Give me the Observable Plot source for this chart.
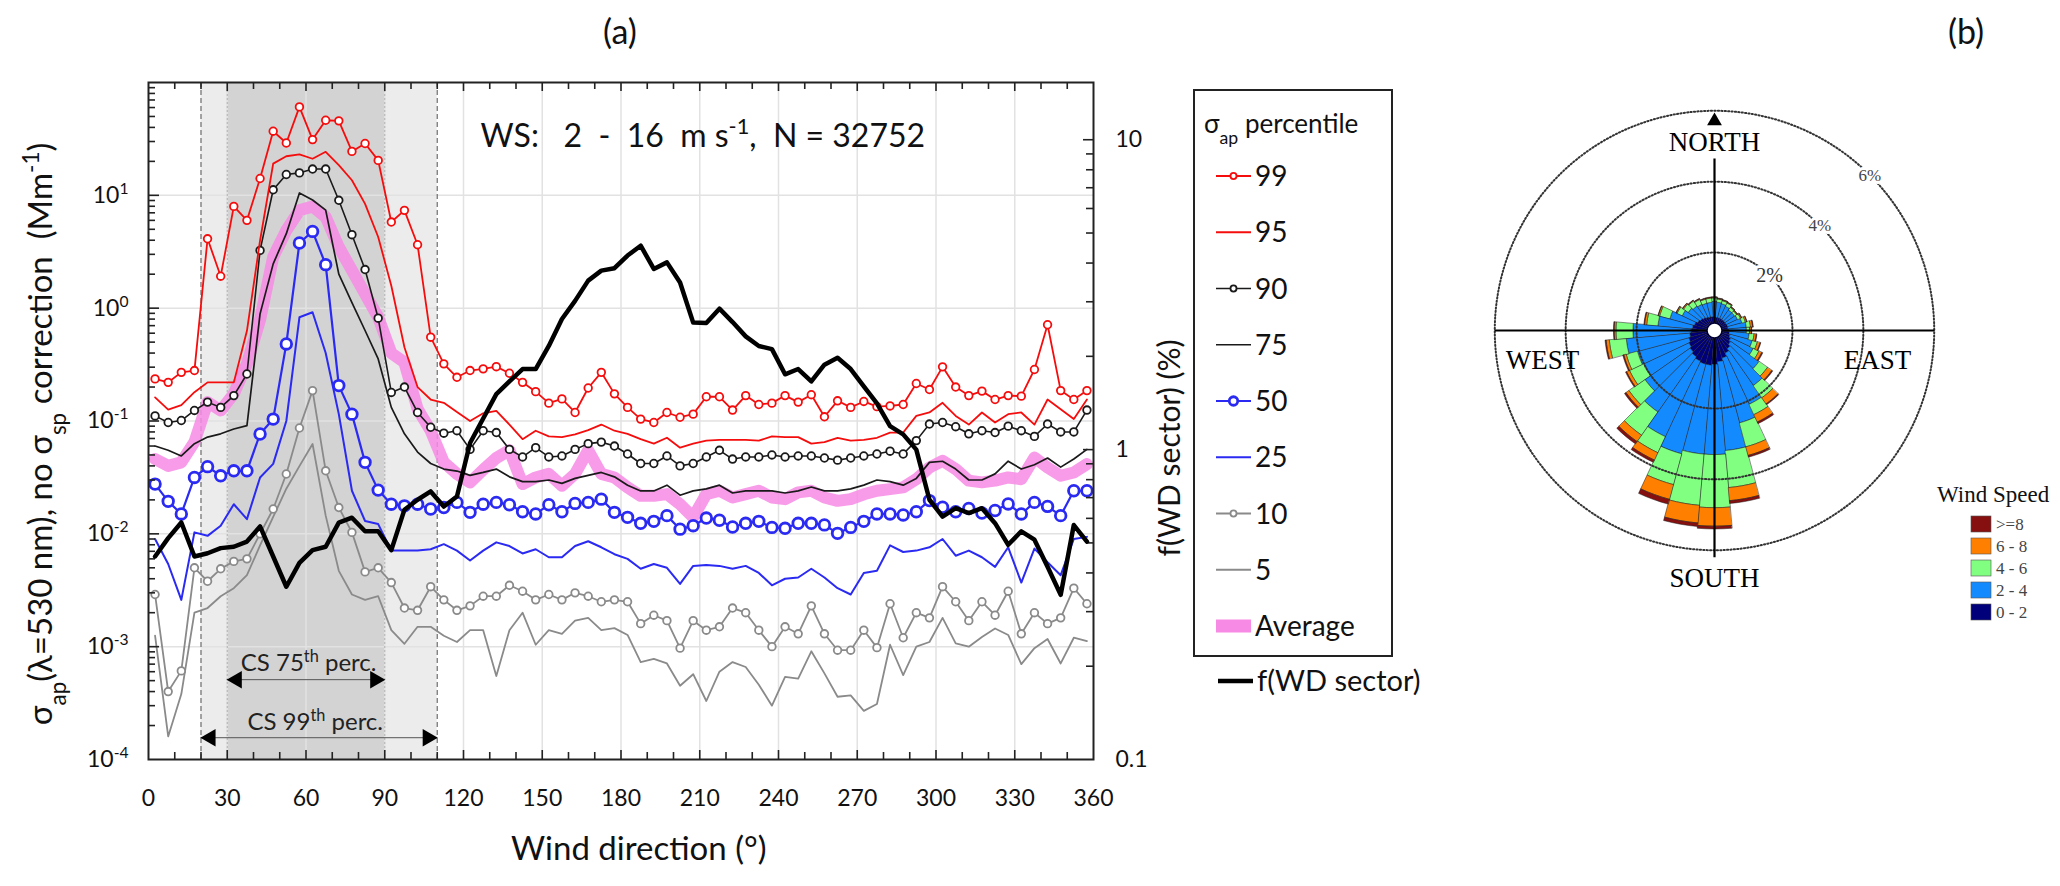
<!DOCTYPE html>
<html>
<head>
<meta charset="utf-8">
<script src="https://cdn.jsdelivr.net/npm/d3@7"></script>
<script src="https://cdn.jsdelivr.net/npm/@observablehq/plot@0.6"></script>
<style>
  body { margin: 0; background: #fff; }
  #wrap { position: relative; width: 2060px; height: 886px; overflow: hidden; background: #fff; }
  #wrap > svg { position: absolute; }
</style>
</head>
<body>
<div id="wrap"></div>
<script>
// ---- panel (a): wind direction sectors (bin centres, degrees)
const wd = [2.5,7.5,12.5,17.5,22.5,27.5,32.5,37.5,42.5,47.5,52.5,57.5,62.5,67.5,72.5,77.5,82.5,87.5,92.5,97.5,102.5,107.5,
  112.5,117.5,122.5,127.5,132.5,137.5,142.5,147.5,152.5,157.5,162.5,167.5,172.5,177.5,182.5,187.5,192.5,197.5,202.5,207.5,
  212.5,217.5,222.5,227.5,232.5,237.5,242.5,247.5,252.5,257.5,262.5,267.5,272.5,277.5,282.5,287.5,292.5,297.5,302.5,307.5,
  312.5,317.5,322.5,327.5,332.5,337.5,342.5,347.5,352.5,357.5];

// sigma_ap percentiles (Mm-1)
const p99 = [0.236,0.22,0.27,0.28,4.12,1.92,7.98,6.0,14.1,37,29.1,60.8,31.2,46.3,45.7,24.5,28.8,20.4,5.8,7.36,3.65,0.553,
  0.321,0.244,0.28,0.29,0.303,0.265,0.22,0.182,0.144,0.157,0.119,0.196,0.27,0.174,0.132,0.104,0.097,0.119,0.108,0.115,
  0.164,0.164,0.125,0.168,0.14,0.144,0.168,0.147,0.171,0.109,0.151,0.132,0.149,0.134,0.136,0.14,0.215,0.19,0.302,0.2,
  0.168,0.184,0.155,0.168,0.166,0.286,0.713,0.186,0.155,0.186];
const p95 = [0.162,0.126,0.138,0.18,0.22,0.22,0.22,0.63,3.98,19.1,22.2,23.1,21.1,24.3,18.5,13.6,8.4,4.27,1.58,0.45,0.2,0.155,
  0.145,0.12,0.1,0.117,0.123,0.093,0.069,0.082,0.073,0.072,0.076,0.083,0.093,0.082,0.077,0.069,0.063,0.071,0.058,0.063,
  0.067,0.068,0.068,0.068,0.067,0.073,0.072,0.072,0.063,0.065,0.071,0.067,0.068,0.071,0.079,0.079,0.111,0.119,0.145,0.111,
  0.093,0.119,0.097,0.115,0.119,0.093,0.155,0.127,0.104,0.155];
const p90 = [0.111,0.097,0.101,0.124,0.147,0.132,0.168,0.261,3.25,11.2,15.3,15.8,17.1,17.1,9.04,4.48,2.2,0.815,0.179,0.2,0.119,0.088,
  0.078,0.082,0.056,0.082,0.079,0.056,0.048,0.058,0.048,0.049,0.056,0.063,0.065,0.06,0.051,0.042,0.042,0.049,0.04,0.042,
  0.048,0.055,0.046,0.048,0.048,0.05,0.048,0.049,0.049,0.047,0.045,0.047,0.049,0.051,0.054,0.051,0.067,0.094,0.097,0.089,
  0.077,0.082,0.079,0.09,0.082,0.073,0.094,0.08,0.08,0.125];
const p75 = [0.06,0.055,0.049,0.063,0.072,0.077,0.085,0.091,0.89,2.47,4.57,10.5,9.1,7.4,2.0,1.12,0.634,0.355,0.132,0.077,0.053,0.042,
  0.0375,0.036,0.033,0.035,0.0375,0.032,0.029,0.029,0.03,0.028,0.031,0.033,0.035,0.032,0.027,0.024,0.024,0.027,0.022,0.024,
  0.025,0.027,0.023,0.024,0.024,0.024,0.023,0.024,0.026,0.024,0.024,0.025,0.027,0.03,0.029,0.027,0.031,0.043,0.044,0.0375,
  0.03,0.03,0.034,0.044,0.0375,0.041,0.047,0.039,0.046,0.056];
const p50 = [0.0276,0.0194,0.015,0.0316,0.0394,0.0327,0.0362,0.0362,0.0767,0.104,0.482,3.78,4.79,2.43,0.206,0.115,0.043,0.0244,0.0183,0.0177,
  0.0183,0.0166,0.0171,0.019,0.0155,0.0183,0.019,0.0181,0.0157,0.015,0.0181,0.0157,0.0186,0.019,0.0203,0.0155,0.014,0.0124,0.0129,0.0145,
  0.011,0.0118,0.0138,0.0132,0.0115,0.0124,0.0129,0.0114,0.0112,0.0124,0.0124,0.012,0.0101,0.0114,0.0129,0.015,0.015,0.0147,0.0157,0.0197,
  0.0172,0.0157,0.0168,0.0153,0.0161,0.0184,0.015,0.019,0.0175,0.0145,0.0241,0.0241];
const p25 = [0.009,0.0054,0.0026,0.0103,0.0096,0.0118,0.0183,0.0135,0.0316,0.0417,0.1,0.83,0.92,0.4,0.115,0.0241,0.013,0.0122,0.0071,0.0071,
  0.0071,0.0073,0.0081,0.0071,0.0058,0.0071,0.0084,0.0078,0.0067,0.0073,0.0062,0.0062,0.0078,0.0086,0.0076,0.0066,0.006,0.0049,0.0054,0.005,
  0.0036,0.0052,0.0053,0.0052,0.0049,0.0052,0.0045,0.0035,0.004,0.0041,0.0049,0.0041,0.0033,0.0029,0.0045,0.0047,0.0079,0.0069,0.0071,0.0076,
  0.009,0.0064,0.0071,0.0062,0.0051,0.0076,0.0037,0.0074,0.0056,0.0043,0.009,0.0094];
const p10 = [0.0029,0.0004,0.00061,0.005,0.0038,0.0049,0.0057,0.006,0.01,0.0166,0.0339,0.0867,0.186,0.0362,0.0171,0.0103,0.0046,0.005,0.0037,0.0022,
  0.0021,0.0034,0.0026,0.0021,0.0023,0.0028,0.0028,0.0035,0.0031,0.0026,0.0029,0.0026,0.003,0.0028,0.0025,0.0026,0.0025,0.0016,0.0019,0.0017,
  0.00097,0.0017,0.0014,0.0015,0.0022,0.002,0.0014,0.001,0.0015,0.0013,0.0023,0.0013,0.00093,0.00093,0.0014,0.00098,0.0024,0.0012,0.002,0.0018,
  0.0034,0.0025,0.0017,0.0025,0.0019,0.0031,0.0013,0.002,0.0016,0.0018,0.0033,0.0024];
const p5 = [0.00125,0.00016,0.00038,0.002,0.0022,0.0028,0.0033,0.0043,0.0079,0.0141,0.0251,0.0398,0.0625,0.0145,0.0047,0.0029,0.0026,0.0028,0.0014,0.00106,
  0.0015,0.0015,0.00125,0.0011,0.0014,0.0014,0.00055,0.0014,0.002,0.00104,0.0014,0.0013,0.0017,0.0018,0.0014,0.00146,0.00127,0.00073,0.00078,0.00071,
  0.00045,0.00057,0.00033,0.0006,0.00073,0.00066,0.00046,0.0003,0.00054,0.00052,0.00091,0.00058,0.00036,0.00037,0.00027,0.00031,0.00104,0.00056,0.001,0.0011,
  0.0018,0.00107,0.001,0.00122,0.00145,0.00127,0.0007,0.00097,0.00117,0.00071,0.0012,0.00112];
const avg = [0.046,0.04,0.043,0.065,0.147,0.124,0.174,0.321,0.79,2.84,4.89,7.36,7.98,6.43,3.48,2.16,1.34,0.83,0.4,0.33,
  0.128,0.082,0.043,0.034,0.0286,0.037,0.047,0.055,0.0276,0.0316,0.034,0.0267,0.034,0.055,0.034,0.0316,0.0258,0.0217,0.0217,0.0225,
  0.0183,0.014,0.0225,0.0241,0.021,0.0225,0.0241,0.021,0.0203,0.0233,0.0241,0.021,0.0196,0.0203,0.0224,0.0241,0.0249,0.0258,0.0305,0.0387,
  0.0444,0.0375,0.0296,0.0286,0.0296,0.0316,0.0305,0.0474,0.0387,0.0327,0.035,0.0415];
// frequency of each WD sector (%), right axis
const fwd = [0.452,0.518,0.582,0.452,0.463,0.481,0.486,0.505,0.565,0.452,0.361,0.431,0.474,0.486,0.581,0.603,0.545,0.545,0.474,0.64,
  0.689,0.733,0.655,0.706,1.05,1.26,1.51,1.66,1.82,1.82,2.16,2.64,3.02,3.51,3.78,3.85,4.23,4.55,3.83,4.02,
  3.46,2.57,2.56,2.85,2.58,2.32,2.16,2.11,1.75,1.82,1.66,1.88,1.98,1.82,1.6,1.41,1.19,1.12,1.0,0.689,
  0.608,0.647,0.624,0.647,0.579,0.493,0.545,0.512,0.419,0.34,0.571,0.505];

const xLabels = [0,30,60,90,120,150,180,210,240,270,300,330,360];
const yLabels = [1e-4,1e-3,1e-2,1e-1,1,10];
const rLabels = [0.1,1,10];

// ---- panel (b): wind rose, % of time per 10 degree sector and speed class
const bearing = [0,10,20,30,40,50,60,70,80,90,100,110,120,130,140,150,160,170,180,190,200,210,220,230,240,250,260,270,280,290,300,310,320,330,340,350];
const ws02 = [0.18,0.17,0.17,0.17,0.17,0.17,0.17,0.18,0.18,0.2,0.22,0.25,0.3,0.35,0.42,0.5,0.6,0.68,0.75,0.78,0.78,0.75,0.7,0.65,0.6,0.55,0.5,0.46,0.42,0.38,0.32,0.28,0.25,0.22,0.2,0.19];
const ws24 = [0.44,0.43,0.41,0.38,0.33,0.33,0.35,0.42,0.52,0.5,0.56,0.65,0.7,0.98,1.28,1.6,1.9,2.52,2.55,2.52,2.62,2.35,1.9,1.55,1.4,1.5,1.8,1.64,0.98,0.72,0.48,0.42,0.4,0.4,0.4,0.41];
const ws46 = [0.1,0.09,0.09,0.1,0.09,0.07,0.09,0.1,0.12,0.09,0.14,0.15,0.18,0.29,0.42,0.32,0.7,1.05,1.5,1.45,0.9,0.5,0.8,0.55,0.45,0.33,0.48,0.48,0.32,0.3,0.16,0.16,0.17,0.15,0.12,0.12];
const ws68 = [0.02,0.02,0.02,0.02,0.02,0.02,0.03,0.04,0.06,0.05,0.06,0.08,0.09,0.15,0.21,0.23,0.25,0.37,0.52,0.5,0.43,0.23,0.22,0.1,0.09,0.07,0.09,0.05,0.06,0.04,0.03,0.03,0.02,0.02,0.02,0.02];
const ws8 = [0.01,0.01,0.01,0.01,0.01,0.01,0.01,0.01,0.02,0.01,0.02,0.02,0.03,0.03,0.03,0.05,0.05,0.08,0.08,0.1,0.14,0.07,0.08,0.05,0.03,0.03,0.03,0.02,0.02,0.01,0.01,0.01,0.01,0.01,0.01,0.01];
const ringPct = [2, 4, 6];

// ---------------------------------------------------------------
const RED = "#f50d0d", BLACK = "#1a1a1a", BLUE = "#2a2af2", GRAY = "#8a8a8a", PINK = "#f78ae4";

const rows = wd.map((d, i) => ({wd: d, p99: p99[i], p95: p95[i], p90: p90[i], p75: p75[i], p50: p50[i],
  p25: p25[i], p10: p10[i], p5: p5[i], avg: avg[i], fwd: fwd[i]}));

const series = [
  {key: "p99", label: "99", color: RED, width: 1.8, dot: 3.8, dotWidth: 1.8},
  {key: "p95", label: "95", color: RED, width: 1.8},
  {key: "p90", label: "90", color: BLACK, width: 1.6, dot: 3.8, dotWidth: 1.8},
  {key: "p75", label: "75", color: BLACK, width: 1.7},
  {key: "p50", label: "50", color: BLUE, width: 2.2, dot: 5.3, dotWidth: 2.8},
  {key: "p25", label: "25", color: BLUE, width: 2},
  {key: "p10", label: "10", color: GRAY, width: 1.8, dot: 3.8, dotWidth: 1.8},
  {key: "p5", label: "5", color: GRAY, width: 1.8}
];

const csNotes = [
  {label: "CS 75^{th} perc.", x1: 30, x2: 90, yArrow: 5.1e-4, tx: 61, ty: 6.1e-4},
  {label: "CS 99^{th} perc.", x1: 20, x2: 110, yArrow: 1.56e-4, tx: 63.5, ty: 1.83e-4}
];
const wsNote = [{label: "WS:\u00a0\u00a0 2\u00a0 -\u00a0 16\u00a0 m s^{-1},\u00a0 N = 32752", x: 126.5, y: 26.7}];

// layout of panel (a)
const W = 1200, H = 886, mL = 148, mR = 107, mT = 82, mB = 127;
const fw = W - mL - mR, fh = H - mT - mB;
const xMinor = d3.range(10, 360, 10).filter(d => d % 30);
const xMajor = d3.range(30, 360, 30);
const yMinor = d3.scaleLog().domain([1e-4, 100]).ticks().filter(d => Math.abs(Math.log10(d) % 1) > 1e-6);
const rMinor = d3.scaleLog().domain([0.1, 15.3]).ticks().filter(d => Math.abs(Math.log10(d) % 1) > 1e-6);

function rich(node, s) {
  const t = d3.select(node).text(null);
  const re = /([\^_])\{([^}]*)\}/g;
  let last = 0, m;
  while ((m = re.exec(s))) {
    if (m.index > last) t.append("tspan").text(s.slice(last, m.index));
    t.append("tspan").attr("baseline-shift", m[1] === "^" ? "super" : "sub").style("font-size", "0.68em").text(m[2]);
    last = re.lastIndex;
  }
  if (last < s.length) t.append("tspan").text(s.slice(last));
}
function richAll(svg) {
  d3.select(svg).selectAll("text").each(function () {
    const s = this.textContent;
    if (/[\^_]\{/.test(s) && !this.querySelector("tspan")) rich(this, s);
  });
}

const tickStyle = {stroke: "#222", strokeWidth: 1.6};

const main = Plot.plot({
  width: W, height: H, marginLeft: mL, marginRight: mR, marginTop: mT, marginBottom: mB,
  x: {domain: [0, 360]},
  y: {type: "log", domain: [1e-4, 100]},
  style: {fontFamily: "Lato, sans-serif", fontSize: "23px", color: "#111", background: "transparent"},
  marks: [
    Plot.rect([csNotes[1]], {x1: "x1", x2: "x2", y1: 1e-4, y2: 100, fill: "#ececec"}),
    Plot.rect([csNotes[0]], {x1: "x1", x2: "x2", y1: 1e-4, y2: 100, fill: "#d3d3d3"}),
    Plot.ruleX(xMajor, {stroke: "#e2e2e2", strokeWidth: 1.5}),
    Plot.ruleY([1e-3, 1e-2, 1e-1, 1, 10], {stroke: "#e2e2e2", strokeWidth: 1.5}),
    Plot.ruleX([30, 90], {stroke: "#b0b0b0", strokeDasharray: "2,2", strokeWidth: 1}),
    Plot.ruleX([20, 110], {stroke: "#777", strokeDasharray: "5,3", strokeWidth: 1.3}),
    Plot.line(rows, {x: "wd", y: "avg", stroke: PINK, strokeWidth: 12, strokeOpacity: 0.85, strokeLinejoin: "round"}),
    ...series.slice().reverse().flatMap(s => [
      Plot.line(rows, {x: "wd", y: s.key, stroke: s.color, strokeWidth: s.width}),
      ...(s.dot ? [Plot.dot(rows, {x: "wd", y: s.key, r: s.dot, stroke: s.color, strokeWidth: s.dotWidth, fill: "white"})] : [])
    ]),
    // CS arrows
    Plot.ruleY(csNotes, {y: "yArrow", x1: "x1", x2: "x2", stroke: "#555", strokeWidth: 1}),
    Plot.dot(csNotes, {x: "x1", y: "yArrow", symbol: "triangle", rotate: -90, r: 6.5, fill: "black", dx: 9.5}),
    Plot.dot(csNotes, {x: "x2", y: "yArrow", symbol: "triangle", rotate: 90, r: 6.5, fill: "black", dx: -9.5}),
    Plot.text(csNotes, {x: "tx", y: "ty", text: "label", lineAnchor: "bottom", fontSize: 24, fill: "#222"}),
    Plot.text(wsNote, {x: "x", y: "y", text: "label", textAnchor: "start", lineAnchor: "bottom", fontSize: 32, fill: "#111"}),
    // inward ticks
    Plot.tickX(xMinor, {...tickStyle, insetTop: fh - 7}),
    Plot.tickX(xMajor, {...tickStyle, insetTop: fh - 9}),
    Plot.tickX(xMinor, {...tickStyle, insetBottom: fh - 7}),
    Plot.tickX(xMajor, {...tickStyle, insetBottom: fh - 9}),
    Plot.tickY(yMinor, {...tickStyle, insetRight: fw - 7}),
    Plot.tickY([1e-3, 1e-2, 1e-1, 1, 10], {...tickStyle, insetRight: fw - 11}),
    Plot.frame({stroke: "#222", strokeWidth: 2}),
    Plot.axisX({ticks: xLabels, tickSize: 0, tickPadding: 30, label: null}),
    Plot.axisY({ticks: yLabels, tickSize: 0, tickPadding: 20, label: null,
      tickFormat: d => `10^{${Math.round(Math.log10(d))}}`})
  ]
});
richAll(main);

const right = Plot.plot({
  width: W, height: H, marginLeft: mL, marginRight: mR, marginTop: mT, marginBottom: mB,
  x: {domain: [0, 360], axis: null},
  y: {type: "log", domain: [0.1, 15.3]},
  style: {fontFamily: "Lato, sans-serif", fontSize: "23px", color: "#111", background: "transparent"},
  marks: [
    Plot.tickY(rMinor, {...tickStyle, insetLeft: fw - 7}),
    Plot.tickY([1, 10], {...tickStyle, insetLeft: fw - 10}),
    Plot.axisY({anchor: "right", ticks: rLabels, tickSize: 0, tickPadding: 22, label: null, tickFormat: d => String(d)}),
    Plot.line(rows, {x: "wd", y: "fwd", stroke: "#000", strokeWidth: 4.5, strokeLinejoin: "round"})
  ]
});

// ---- wind rose
const HOLE = 0.2;
const roseClasses = [
  {label: "0 - 2", values: ws02, color: "#00007a"},
  {label: "2 - 4", values: ws24, color: "#148aff"},
  {label: "4 - 6", values: ws46, color: "#80ff80"},
  {label: "6 - 8", values: ws68, color: "#ff8000"},
  {label: ">=8", values: ws8, color: "#861010"}
];
const rad = Math.PI / 180;
const wedges = roseClasses.map(() => []);
bearing.forEach((b, i) => {
  let r0 = HOLE;
  roseClasses.forEach((c, k) => {
    const r1 = r0 + c.values[i];
    const pts = [];
    for (let a = -5; a <= 5; a += 2.5) pts.push([r0, b + a]);
    for (let a = 5; a >= -5; a -= 2.5) pts.push([r1, b + a]);
    for (const [r, deg] of pts) wedges[k].push({id: i, x: r * Math.sin(deg * rad), y: r * Math.cos(deg * rad)});
    r0 = r1;
  });
});
const ringPts = ringPct.flatMap(p => d3.range(0, 361, 2).map(a => ({ring: p, x: (p + HOLE) * Math.sin(a * rad), y: (p + HOLE) * Math.cos(a * rad)})));
const R = ringPct[ringPct.length - 1] + HOLE;
const compass = [
  {label: "NORTH", x: 0, y: 5.3}, {label: "SOUTH", x: 0, y: -7.0},
  {label: "WEST", x: -4.85, y: -0.85}, {label: "EAST", x: 4.6, y: -0.85}
];
const ringText = ringPct.map(p => ({label: p + "%", x: (p + HOLE) * Math.SQRT1_2, y: (p + HOLE) * Math.SQRT1_2}));

const RD = 7.9;
const rose = Plot.plot({
  width: 560, height: 560, margin: 0,
  x: {domain: [-RD, RD], axis: null},
  y: {domain: [-RD, RD], axis: null},
  style: {fontFamily: "Liberation Serif, serif", background: "transparent"},
  marks: [
    ...roseClasses.map((c, k) => Plot.line(wedges[k], {x: "x", y: "y", z: "id", curve: "linear-closed",
      fill: c.color, stroke: "#1a1a1a", strokeWidth: 0.5})),
    Plot.line(ringPts, {x: "x", y: "y", z: "ring", curve: "linear-closed", stroke: "#333", strokeWidth: 2, strokeDasharray: "1.2,2.2"}),
    Plot.link([{x1: -R, y1: 0, x2: R, y2: 0}, {x1: 0, y1: 4.85, x2: 0, y2: -6.4}],
      {x1: "x1", y1: "y1", x2: "x2", y2: "y2", stroke: "#000", strokeWidth: 2.2}),
    Plot.dot([{x: 0, y: 5.91}], {x: "x", y: "y", symbol: "triangle", r: 5.5, fill: "#000"}),
    Plot.dot([{x: 0, y: 0}], {x: "x", y: "y", r: 7.5, fill: "white", stroke: "#000033", strokeWidth: 1.5}),
    Plot.text(ringText.slice(0, 1), {x: "x", y: "y", text: "label", fontSize: 20, fill: "#333", stroke: "white", strokeWidth: 6}),
    Plot.text(ringText.slice(1), {x: "x", y: "y", text: "label", fontSize: 17, fill: "#444", stroke: "white", strokeWidth: 6}),
    Plot.text(compass, {x: "x", y: "y", text: "label", fontSize: 27, fill: "#000"})
  ]
});

const wrap = d3.select("#wrap");
wrap.append(() => main).style("left", "0px").style("top", "0px");
wrap.append(() => right).style("left", "0px").style("top", "0px");
wrap.append(() => rose).style("left", "1434px").style("top", "50px");

// ---- titles, axis titles and legends
const ov = wrap.append("svg").attr("width", 2060).attr("height", 886)
  .style("left", "0px").style("top", "0px").style("pointer-events", "none");
function label(x, y, s, o = {}) {
  const t = ov.append("text").attr("x", x).attr("y", y)
    .attr("font-family", o.family || "Lato, sans-serif").attr("font-size", o.size || 30)
    .attr("text-anchor", o.anchor || "start").attr("fill", o.fill || "#111");
  if (o.rotate) t.attr("transform", `rotate(${o.rotate},${x},${y})`);
  rich(t.node(), s);
  return t;
}
label(620, 44, "(a)", {size: 34, anchor: "middle"});
label(1966, 44, "(b)", {size: 34, anchor: "middle"});
label(511, 860, "Wind direction (°)", {size: 33});
label(52, 434, "\u03c3_{ap}(\u03bb=530 nm), no \u03c3_{sp} correction\u00a0 (Mm^{-1})", {size: 33, anchor: "middle", rotate: -90});
label(1180, 448, "f(WD sector) (%)", {size: 30, anchor: "middle", rotate: -90});

// percentile legend
const LX = 1194;
ov.append("rect").attr("x", LX).attr("y", 90).attr("width", 198).attr("height", 566)
  .attr("fill", "none").attr("stroke", "#222").attr("stroke-width", 2);
label(LX + 10, 133, "\u03c3_{ap} percentile", {size: 26});
const legTop = 176, legStep = 56.25;
series.forEach((s, i) => {
  const y = legTop + i * legStep;
  ov.append("line").attr("x1", LX + 22).attr("x2", LX + 57).attr("y1", y).attr("y2", y)
    .attr("stroke", s.color).attr("stroke-width", s.width);
  if (s.dot) ov.append("circle").attr("cx", LX + 39.5).attr("cy", y).attr("r", s.dot * 0.8)
    .attr("fill", "white").attr("stroke", s.color).attr("stroke-width", s.dotWidth);
  label(LX + 61, y + 10, s.label, {size: 28});
});
const yAvg = legTop + series.length * legStep;
ov.append("rect").attr("x", LX + 22).attr("y", yAvg - 6.5).attr("width", 35).attr("height", 13).attr("fill", PINK);
label(LX + 61, yAvg + 10, "Average", {size: 28});
ov.append("line").attr("x1", LX + 24).attr("x2", LX + 59).attr("y1", 681).attr("y2", 681)
  .attr("stroke", "#000").attr("stroke-width", 4.5);
label(LX + 63, 691, "f(WD sector)", {size: 29});

// wind speed legend
label(1937, 502, "Wind Speed", {size: 23, family: "Liberation Serif, serif"});
roseClasses.slice().reverse().forEach((c, i) => {
  const y = 524 + i * 22;
  ov.append("rect").attr("x", 1971).attr("y", y - 8).attr("width", 20).attr("height", 16)
    .attr("fill", c.color).attr("stroke", "#555").attr("stroke-width", 0.6);
  label(1996, y + 6, c.label, {size: 17, family: "Liberation Serif, serif", fill: "#444"});
});
</script>
</body>
</html>
